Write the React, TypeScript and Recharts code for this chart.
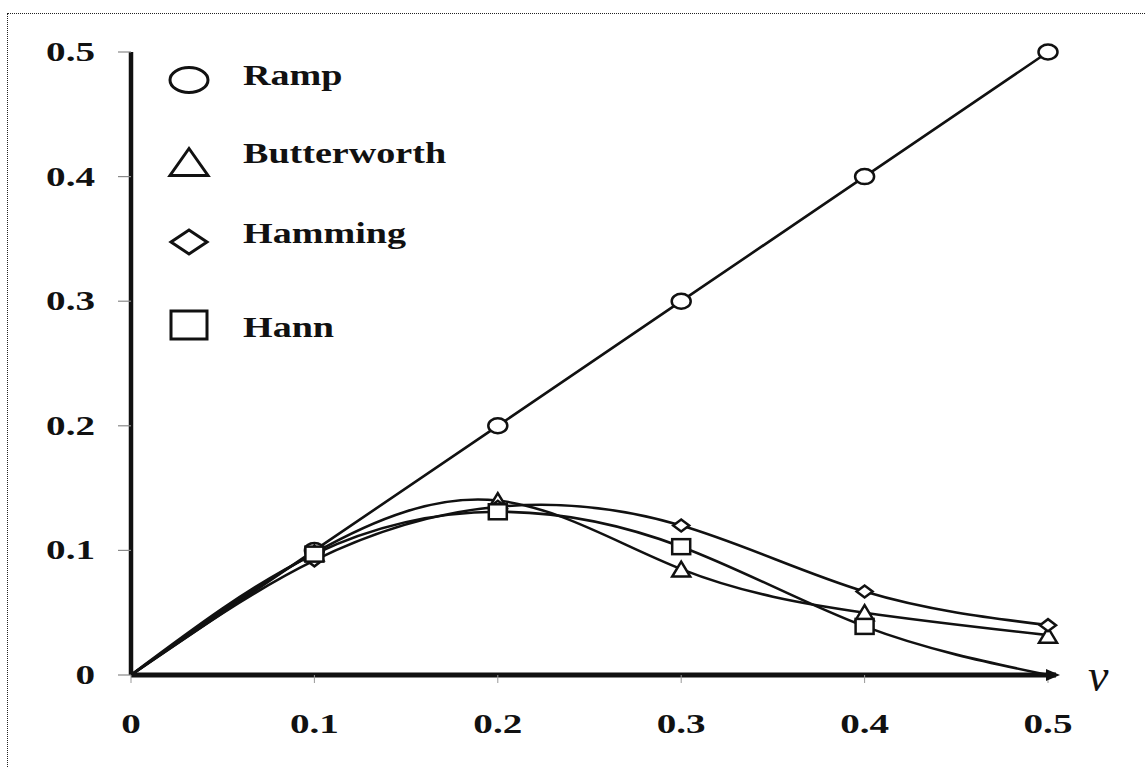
import { LineChart, Line, XAxis, YAxis, Legend, ReferenceDot } from "recharts";

// frequency samples and filter responses
const nu = [0, 0.1, 0.2, 0.3, 0.4, 0.5];
const ramp = [0, 0.1, 0.2, 0.3, 0.4, 0.5];
const butterworth = [0, 0.098, 0.14, 0.085, 0.05, 0.032];
const hamming = [0, 0.092, 0.135, 0.12, 0.067, 0.04];
const hann = [0, 0.097, 0.131, 0.103, 0.039, 0];
const ticks = [0, 0.1, 0.2, 0.3, 0.4, 0.5];
const seriesOrder = ["ramp", "butterworth", "hamming", "hann"];

const data = nu.map((v, i) => ({
  nu: v,
  ramp: ramp[i],
  butterworth: butterworth[i],
  hamming: hamming[i],
  hann: hann[i],
}));

const SERIF = '"Liberation Serif", "Times New Roman", serif';
const fmt = (v: number) => (v === 0 ? "0" : v.toFixed(1));

const YTick = ({ x, y, payload }: any) => (
  <g transform={`translate(${x},${y})`}>
    <text textAnchor="end" y={9} transform="scale(1.45,1)" fontSize={27} fontWeight="bold" fontFamily={SERIF} fill="#111">
      {fmt(payload.value)}
    </text>
  </g>
);

const XTick = ({ x, y, payload }: any) => (
  <g transform={`translate(${x},${y})`}>
    <text textAnchor="middle" y={46} transform="scale(1.45,1)" fontSize={27} fontWeight="bold" fontFamily={SERIF} fill="#111">
      {fmt(payload.value)}
    </text>
  </g>
);

type Shape = "circle" | "triangle" | "diamond" | "square";

// marker outline, w/h are the full box size
const marker = (shape: Shape, cx: number, cy: number, w: number, h: number, sw: number, key?: string) => {
  const p = { key, fill: "#fff", stroke: "#111", strokeWidth: sw };
  if (shape === "circle") return <ellipse {...p} cx={cx} cy={cy} rx={w / 2} ry={h / 2} />;
  if (shape === "square") return <rect {...p} x={cx - w / 2} y={cy - h / 2} width={w} height={h} />;
  if (shape === "triangle")
    return <polygon {...p} points={`${cx - w / 2},${cy + h / 2} ${cx + w / 2},${cy + h / 2} ${cx},${cy - h / 2}`} />;
  return <polygon {...p} points={`${cx - w / 2},${cy} ${cx},${cy - h / 2} ${cx + w / 2},${cy} ${cx},${cy + h / 2}`} />;
};

const SIZES: Record<Shape, [number, number]> = {
  circle: [19, 15],
  triangle: [18, 15],
  diamond: [16, 12],
  square: [18, 15],
};

const dotFor = (shape: Shape) => (props: any) => {
  const { cx, cy, index, value } = props;
  const k = `${shape}-${index}`;
  if (index === 0 || value === 0) return <g key={k} />;
  const [w, h] = SIZES[shape];
  return marker(shape, cx, cy, w, h, 2.5, k);
};

const LEGEND_SHAPE: Record<string, Shape> = {
  ramp: "circle",
  butterworth: "triangle",
  hamming: "diamond",
  hann: "square",
};

// legend rows, coordinates relative to the chart box
const LEGEND_ROWS = [
  { my: 66, ty: 71, w: 38, h: 25 },
  { my: 148, ty: 149, w: 38, h: 27 },
  { my: 228, ty: 229, w: 36, h: 24 },
  { my: 311, ty: 323, w: 36, h: 28 },
];

const renderLegend = ({ payload }: any) => {
  const items = [...(payload || [])].sort(
    (a: any, b: any) => seriesOrder.indexOf(a.dataKey) - seriesOrder.indexOf(b.dataKey)
  );
  return (
    <svg width={520} height={360}>
      {items.map((entry: any, i: number) => {
        const row = LEGEND_ROWS[i];
        return (
          <g key={entry.value}>
            {marker(LEGEND_SHAPE[entry.dataKey], 181, row.my, row.w, row.h, 3)}
            <g transform={`translate(235,${row.ty})`}>
              <text transform="scale(1.27,1)" fontSize={30} fontWeight="bold" fontFamily={SERIF} fill="#111">
                {entry.value}
              </text>
            </g>
          </g>
        );
      })}
    </svg>
  );
};

// arrowhead at the end of the frequency axis plus the axis symbol
const AxisArrow = ({ cx, cy }: any) => (
  <g>
    <rect x={cx - 2} y={cy - 2.5} width={10} height={5} fill="#111" />
    <polygon points={`${cx - 2},${cy - 6} ${cx + 12},${cy} ${cx - 2},${cy + 6}`} fill="#111" />
    <text x={cx + 40} y={cy + 16} fontSize={46} fontStyle="italic" fontFamily={SERIF} fill="#111">
      ν
    </text>
  </g>
);

export default function App() {
  return (
    <div
      style={{
        position: "absolute",
        left: 7,
        top: 13,
        width: 1138,
        height: 754,
        boxSizing: "border-box",
        borderTop: "1px dotted #222",
        borderLeft: "1px dotted #222",
        background: "#fff",
      }}
    >
      <LineChart width={1137} height={753} data={data} margin={{ top: 38, right: 97, left: 63, bottom: 32 }}>
        <XAxis
          dataKey="nu"
          type="number"
          domain={[0, 0.5]}
          ticks={ticks}
          height={60}
          tick={<XTick />}
          tickSize={8}
          tickMargin={4}
          tickLine={{ stroke: "#999", strokeWidth: 1 }}
          axisLine={{ stroke: "#111", strokeWidth: 5 }}
        />
        <YAxis
          type="number"
          domain={[0, 0.5]}
          ticks={ticks}
          width={60}
          tick={<YTick />}
          tickSize={13}
          tickMargin={23}
          tickLine={{ stroke: "#888", strokeWidth: 1.2 }}
          axisLine={{ stroke: "#111", strokeWidth: 4.5 }}
        />
        <Legend
          layout="vertical"
          align="center"
          verticalAlign="middle"
          wrapperStyle={{ left: 0, top: 0, width: 520, height: 360 }}
          content={renderLegend}
        />
        <Line dataKey="ramp" name="Ramp" type="linear" stroke="#111" strokeWidth={2.6} dot={dotFor("circle")} activeDot={false} isAnimationActive={false} />
        <Line dataKey="butterworth" name="Butterworth" type="natural" stroke="#111" strokeWidth={2.6} dot={dotFor("triangle")} activeDot={false} isAnimationActive={false} />
        <Line dataKey="hamming" name="Hamming" type="natural" stroke="#111" strokeWidth={2.6} dot={dotFor("diamond")} activeDot={false} isAnimationActive={false} />
        <Line dataKey="hann" name="Hann" type="natural" stroke="#111" strokeWidth={2.6} dot={dotFor("square")} activeDot={false} isAnimationActive={false} />
        <ReferenceDot x={0.5} y={0} ifOverflow="visible" shape={<AxisArrow />} />
      </LineChart>
    </div>
  );
}
